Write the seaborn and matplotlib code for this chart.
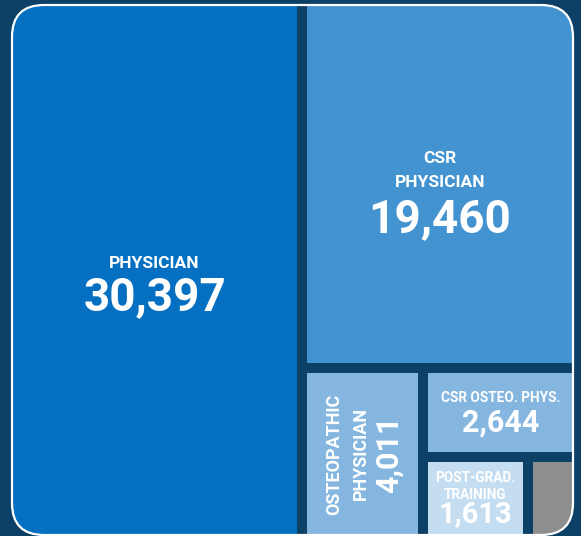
import matplotlib
matplotlib.use("Agg")
import matplotlib.pyplot as plt
from matplotlib.patches import Rectangle, FancyBboxPatch
import seaborn as sns

# --- Data ---
labels = ["PHYSICIAN", "CSR\nPHYSICIAN", "OSTEOPATHIC\nPHYSICIAN", "CSR OSTEO. PHYS.",
          "POST-GRAD.\nTRAINING", ""]
values = [30397, 19460, 4011, 2644, 1613, 700]
colors = ["#0570C1", "#4393D1", "#84B6DF", "#84B6DF", "#C5DDF0", "#8E8E8E"]

# text styles per tile:
# (label size, number size, rotation, label offset, number offset, linespacing)
styles = [
    (12.5, 33, 0, -7, 27, 1.45),
    (12.5, 33, 0, -13, 35, 1.75),
    (13, 22, 90, -15, 26.5, 1.6),
    (9.8, 22, 0, -14, 10, 1.45),
    (9.8, 21, 0, -12, 16, 1.3),
    None,
]

NAVY = "#0D4066"
GAP = 10

sns.set_theme(style="white")
plt.rcParams["font.family"] = ["Roboto", "DejaVu Sans"]


def worst(row, side):
    s = sum(row)
    return max(max(side**2 * r / s**2, s**2 / (side**2 * r)) for r in row)


def squarify(vals, x, y, w, h):
    total = sum(vals)
    areas = [v * w * h / total for v in vals]
    rects = []
    i = 0
    while i < len(areas):
        side = min(w, h)
        row = [areas[i]]
        j = i + 1
        while j < len(areas) and worst(row + [areas[j]], side) <= worst(row, side):
            row.append(areas[j])
            j += 1
        s = sum(row)
        if w >= h:
            cw = s / h
            yy = y
            for a in row:
                rects.append((x, yy, cw, a / cw))
                yy += a / cw
            x += cw
            w -= cw
        else:
            rh = s / w
            xx = x
            for a in row:
                rects.append((xx, y, a / rh, rh))
                xx += a / rh
            y += rh
            h -= rh
        i = j
    return rects


fig = plt.figure(figsize=(5.81, 5.36), dpi=100, facecolor=NAVY)
ax = fig.add_axes([0, 0, 1, 1])
ax.set_facecolor(NAVY)
ax.set_xlim(0, 581)
ax.set_ylim(536, 0)
ax.axis("off")

bx, by, bw, bh = 12, 5, 561, 530
box = FancyBboxPatch((bx, by), bw, bh, boxstyle="round,pad=0,rounding_size=32",
                     facecolor="none", edgecolor="white", linewidth=1.6, zorder=5)
ax.add_patch(box)

rects = squarify(values, bx, by, bw, bh)
eps = 0.5
for (x, y, w, h), c, lab, v, st in zip(rects, colors, labels, values, styles):
    x0, y0, x1, y1 = x, y, x + w, y + h
    if x0 > bx + eps:
        x0 += GAP / 2
    if y0 > by + eps:
        y0 += GAP / 2
    if x1 < bx + bw - eps:
        x1 -= GAP / 2
    if y1 < by + bh - eps:
        y1 -= GAP / 2
    r = Rectangle((x0, y0), x1 - x0, y1 - y0, facecolor=c, edgecolor="none", zorder=2)
    ax.add_patch(r)
    r.set_clip_path(box)
    if st is None:
        continue
    lsize, nsize, rot, loff, noff, lsp = st
    cx, cy = (x0 + x1) / 2, (y0 + y1) / 2
    if rot == 0:
        ax.text(cx, cy + loff, lab, ha="center", va="center", color="white",
                fontsize=lsize, fontweight="bold", linespacing=lsp, zorder=3)
        ax.text(cx, cy + noff, f"{v:,}", ha="center", va="center", color="white",
                fontsize=nsize, fontweight="bold", zorder=3)
    else:
        ax.text(cx + loff, cy, lab, ha="center", va="center", color="white",
                fontsize=lsize, fontweight="bold", linespacing=lsp, rotation=90,
                zorder=3)
        ax.text(cx + noff, cy, f"{v:,}", ha="center", va="center", color="white",
                fontsize=nsize, fontweight="bold", rotation=90, zorder=3)

fig.savefig("out.png", dpi=100, facecolor=NAVY)
